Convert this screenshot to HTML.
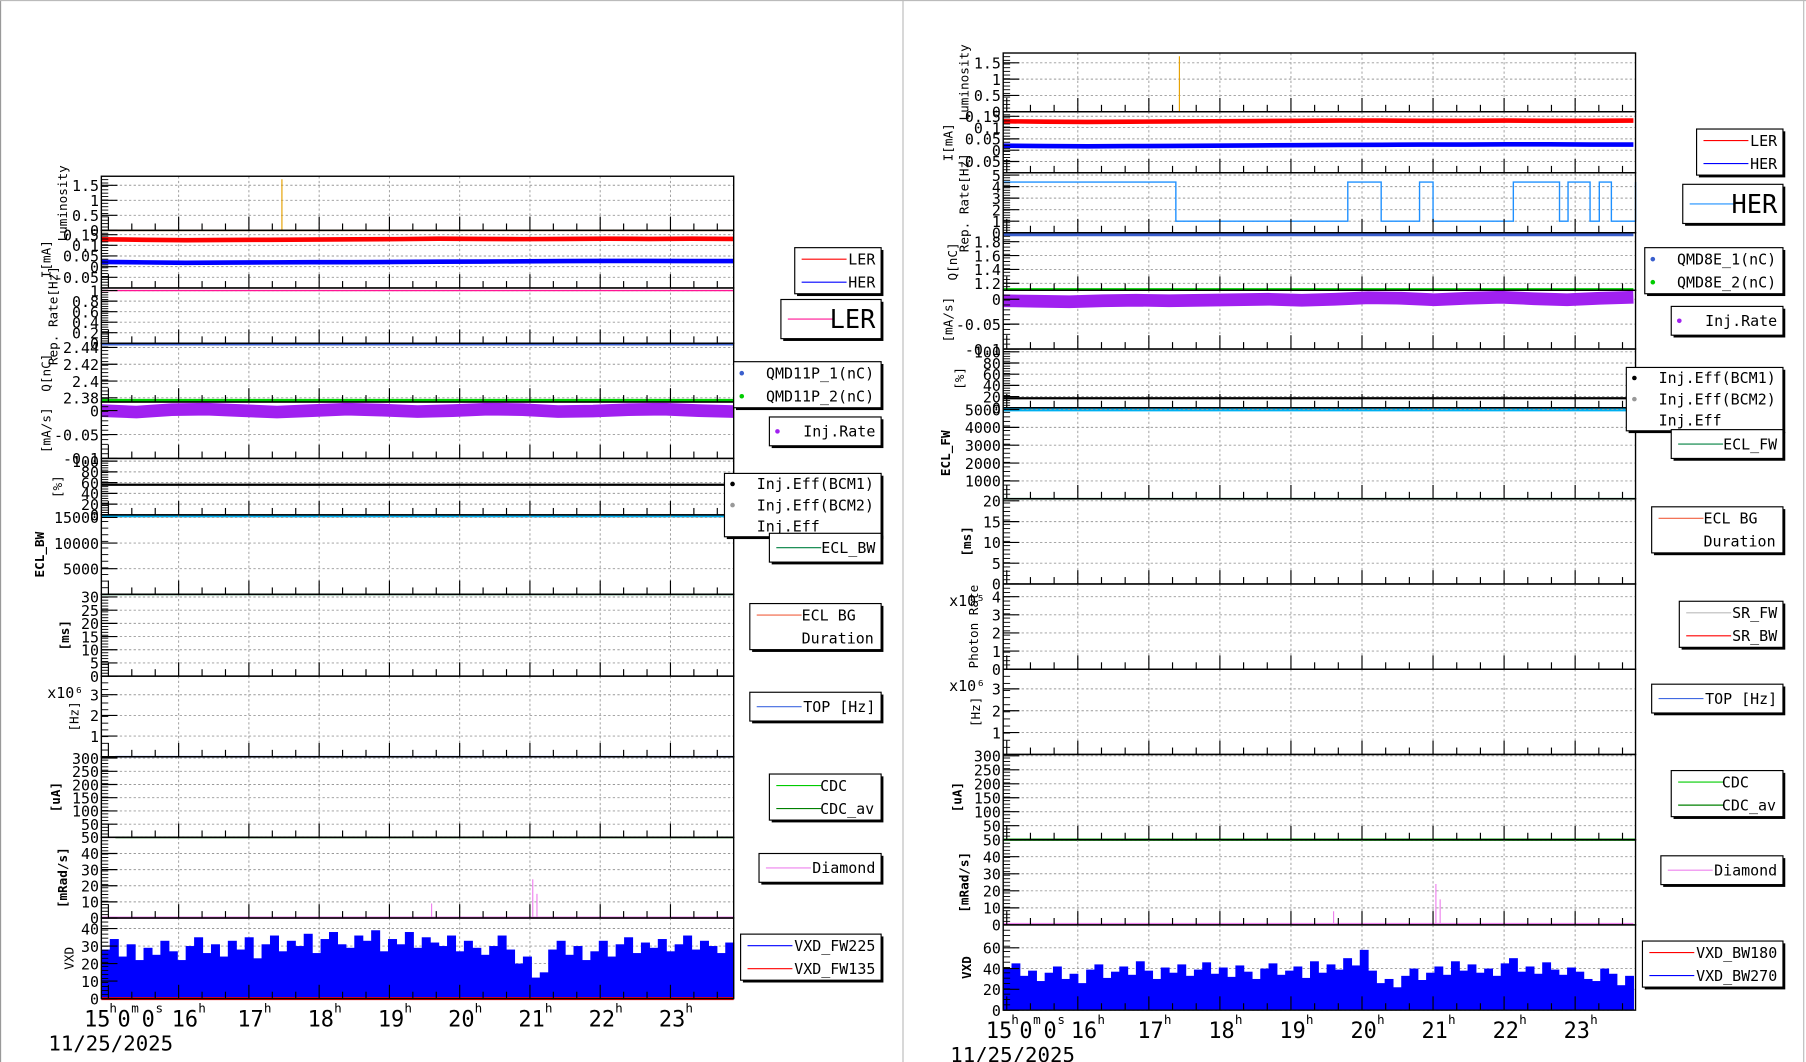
<!DOCTYPE html>
<html><head><meta charset="utf-8"><style>
html,body{margin:0;padding:0;background:#fff}
svg{display:block}
text{font-family:"DejaVu Sans Mono","Liberation Mono",monospace;fill:#000}
</style></head><body>
<svg id="c" width="1806" height="1062" viewBox="0 0 1568 922" xmlns="http://www.w3.org/2000/svg"></svg>
<script>
// ---- data ----
const lumiSpikeL = [17.47, 1.7];
const lumiSpikeR = [17.43, 1.7];
const lerL = [0.128,0.126,0.124,0.125,0.126,0.127,0.128,0.129,0.131,0.130,0.129,0.130,0.131,0.130,0.131,0.130];
const herL = [0.022,0.020,0.018,0.019,0.020,0.021,0.021,0.022,0.023,0.024,0.025,0.026,0.027,0.027,0.026,0.026];
const lerR = [0.128,0.126,0.125,0.126,0.127,0.128,0.129,0.130,0.131,0.131,0.130,0.130,0.131,0.130,0.130,0.131];
const herR = [0.020,0.018,0.017,0.018,0.019,0.020,0.021,0.022,0.023,0.024,0.025,0.025,0.026,0.026,0.025,0.025];
const injL = [0.000,-0.003,0.002,0.003,0.000,-0.003,0.000,0.003,0.001,-0.002,0.000,0.003,0.002,-0.002,-0.001,0.002,0.003,0.000,-0.002];
const injR = [-0.003,-0.004,-0.005,-0.003,-0.002,-0.003,-0.002,-0.001,0.000,-0.002,0.000,0.003,0.002,-0.001,0.002,0.004,0.001,-0.001,0.002,0.004];
const repStepT = [14.95,17.38,19.80,20.27,20.81,21.00,22.13,22.78,22.90,23.21,23.34,23.51,23.85];
const repStepV = [4.4,1.0,4.4,1.0,4.4,1.0,4.4,1.0,4.4,1.0,4.4,1.0,4.4];
const diaSpikesT = [19.6, 21.04, 21.10];
const diaSpikesL = [9, 24, 15];
const diaSpikesR = [8, 24, 15];
const vxdL = [28,34,24,31,22,29,25,33,27,22,30,35,26,31,24,33,28,35,23,31,36,27,33,30,37,26,34,38,31,29,36,33,39,27,34,31,38,29,35,32,30,36,27,33,29,25,30,36,28,20,24,12,15,28,33,25,30,22,27,33,24,31,35,26,32,29,34,27,31,36,28,33,30,26,32];
const vxdR = [40,45,33,38,28,36,42,30,35,26,39,44,31,37,42,34,47,38,30,41,36,44,33,39,46,35,41,32,43,37,30,40,45,34,38,42,31,47,36,44,39,50,43,58,38,26,30,22,33,40,29,36,42,34,47,38,44,36,40,33,45,50,37,42,35,46,39,34,41,37,30,28,40,35,24,33];
const hourLabels = ['16','17','18','19','20','21','22','23'];

const svg = document.getElementById('c');
const NS='http://www.w3.org/2000/svg';
function el(tag, attrs, parent){const e=document.createElementNS(NS,tag);for(const k in attrs)e.setAttribute(k,attrs[k]);(parent||svg).appendChild(e);return e;}
function txt(x,y,s,size,anchor,parent,extra){const t=el('text',Object.assign({x:x,y:y,'font-size':size,'text-anchor':anchor||'start'},extra||{}),parent);t.textContent=s;return t;}

el('line',{x1:0.5,y1:0,x2:0.5,y2:922,stroke:'#999','stroke-width':1});
el('line',{x1:784,y1:0,x2:784,y2:922,stroke:'#bbb','stroke-width':1});
el('line',{x1:0,y1:0.5,x2:1568,y2:0.5,stroke:'#bbb','stroke-width':1});
el('line',{x1:1566,y1:0,x2:1566,y2:922,stroke:'#bbb','stroke-width':1});

function makePanel(P){
  const g=el('g',{});
  
  
  const X=t=>P.x0+(t-P.t0)/(P.t1-P.t0)*(P.x1-P.x0);
  P.rows.forEach(r=>{
    const Y=v=>r.y1-(v-r.min)/(r.max-r.min)*(r.y1-r.y0);
    const rg=el('g',{},g);
    
    
    r.ticks.forEach(v=>{el('line',{x1:P.x0,x2:P.x1,y1:Y(v),y2:Y(v),stroke:'#999','stroke-dasharray':'2,2','stroke-width':0.8},rg);});
    for(let h=16;h<=23;h++){el('line',{x1:X(h),x2:X(h),y1:r.y0,y2:r.y1,stroke:'#999','stroke-dasharray':'2,2','stroke-width':0.8},rg);}
    r.draw(X,Y,rg);
    for(let h=15;h<=23.9;h+=1/3){const major=Math.abs(h-Math.round(h))<0.01;el('line',{x1:X(h),x2:X(h),y1:r.y1,y2:r.y1-(major?12:6),stroke:'#000','stroke-width':1},rg);}
    r.ticks.forEach(v=>{el('line',{x1:P.x0,x2:P.x0+14,y1:Y(v),y2:Y(v),stroke:'#000'},rg);txt(P.x0-2,Y(v)+5,String(v),13,'end',rg);});
    for(let k=0;k<r.ticks.length*4;k++){const yy=r.y1-k*(r.y1-r.y0)/(r.ticks.length*4);el('line',{x1:P.x0,x2:P.x0+6,y1:yy,y2:yy,stroke:'#000','stroke-width':0.8},rg);}
    const lx=P.x0-(r.labOff||38), ly=(r.y0+r.y1)/2;
    txt(lx,ly,r.label,r.labSize||11,'middle',rg,{transform:`rotate(-90 ${lx} ${ly})`,'font-weight':r.bold?'bold':'normal'});
    if(r.exp) txt(P.x0-47,r.y0+19,r.exp,13,'start',rg);
    el('rect',{x:P.x0,y:r.y0,width:P.x1-P.x0,height:r.y1-r.y0,fill:'none',stroke:'#000','stroke-width':1.2},rg);
  });
  const yb=P.rows[P.rows.length-1].y1;
  txt(P.x0-15,yb+24,'15',19,'start',g);txt(P.x0+7,yb+12,'h',11,'start',g);txt(P.x0+14,yb+24,'0',19,'start',g);
  txt(P.x0+26,yb+12,'m',11,'start',g);txt(P.x0+35,yb+24,'0',19,'start',g);txt(P.x0+47,yb+12,'s',11,'start',g);
  hourLabels.forEach((s,i)=>{const h=16+i;const t=txt(X(h)-10+(i==0?4:0),yb+24,s,19,'start',g);
    txt(X(h)+13+(i==0?4:0),yb+12,'h',11,'start',g);});
  txt(P.x0-46,yb+45,'11/25/2025',18,'start',g);
  return X;
}
function poly(X,Y,ts,vs,color,w,g,nm){
  const p=el('polyline',{points:vs.map((v,i)=>X(ts(i))+','+Y(v)).join(' '),fill:'none',stroke:color,'stroke-width':w},g);
  return p;
}
function hline(X,Y,t0,t1,v,color,w,g,nm){const l=el('line',{x1:X(t0),x2:X(t1),y1:Y(v),y2:Y(v),stroke:color,'stroke-width':w},g);}
function bars(X,Y,t0,t1,vals,color,g,nm){const dt=(t1-t0)/vals.length;vals.forEach((v,i)=>{const r=el('rect',{x:X(t0+i*dt),y:Y(v),width:X(t0+dt)-X(t0)+0.5,height:Y(0)-Y(v),fill:color},g);});}
function legend(x,y,w,h,items,size,fs,left){
  const g=el('g',{});
  el('rect',{x:x+2,y:y+2,width:w,height:h,fill:'#000'},g);
  el('rect',{x:x,y:y,width:w,height:h,fill:'#fff',stroke:'#000'},g);
  items.forEach((it,i)=>{const yy=y+h*(i+0.5)/items.length;
    const e=el('g',{},g);
    if(it.dot) el('circle',{cx:x+7,cy:yy,r:2,fill:it.c},e); else if(it.c) el('line',{x1:x+6,x2:x+(it.lw||45),y1:yy,y2:yy,stroke:it.c},e);
    if(left) txt(x+left,yy+(fs||13)*0.35,it.t,fs||13,'start',e);
    else txt(x+w-5,yy+(fs||13)*0.35,it.t,fs||13,'end',e);});
}

const sL=(a,n)=>i=>14.9+i*(23.9-14.9)/(n-1);
makePanel({name:'left-panel',x0:88,x1:637,t0:14.9,t1:23.9,rows:[
 {id:'luminosity',y0:153,y1:200,min:0,max:1.8,ticks:[0,0.5,1,1.5],label:'Luminosity',labOff:30,draw:(X,Y,g)=>{hline(X,Y,14.9,23.9,0,'#e6a000',1.2,g,'luminosity-line');el('line',{x1:X(lumiSpikeL[0]),x2:X(lumiSpikeL[0]),y1:Y(0),y2:Y(lumiSpikeL[1]),stroke:'#e6a000'},g);}},
 {id:'current',y0:200,y1:250,min:-0.1,max:0.17,ticks:[-0.05,0,0.05,0.1,0.15],label:'I[mA]',labOff:44,draw:(X,Y,g)=>{poly(X,Y,sL(0,lerL.length),lerL,'#f00',4,g,'ler-line');poly(X,Y,sL(0,herL.length),herL,'#00f',4,g,'her-line');}},
 {id:'rep-rate',y0:250,y1:298,min:0,max:1.05,ticks:[0,0.2,0.4,0.6,0.8,1],label:'Rep. Rate[Hz]',labOff:38,draw:(X,Y,g)=>{hline(X,Y,14.9,23.9,1,'#ff1493',1.2,g,'rep-rate-line');}},
 {id:'charge',y0:298,y1:349,min:2.375,max:2.445,ticks:[2.38,2.4,2.42,2.44],label:'Q[nC]',labOff:44,draw:(X,Y,g)=>{hline(X,Y,14.9,23.9,2.444,'#3a5fcd',2.5,g,'qmd1-line');hline(X,Y,14.9,23.9,2.377,'#00cc00',2.5,g,'qmd2-line');}},
 {id:'inj-rate',y0:349,y1:398,min:-0.1,max:0.018,ticks:[-0.1,-0.05,0],label:'[mA/s]',labOff:44,draw:(X,Y,g)=>{poly(X,Y,sL(0,injL.length),injL,'#a020f0',11,g,'inj-rate-band');}},
 {id:'inj-eff',y0:398,y1:447,min:0,max:105,ticks:[0,20,40,60,80,100],label:'[%]',labOff:34,draw:(X,Y,g)=>{hline(X,Y,14.9,23.9,56,'#000',2,g,'inj-eff-bcm1');hline(X,Y,14.9,23.9,-2,'#00b0f0',2.5,g,'inj-eff');}},
 {id:'ecl-bw',y0:447,y1:516,min:0,max:15500,ticks:[5000,10000,15000],label:'ECL_BW',bold:1,labOff:50,draw:(X,Y,g)=>{hline(X,Y,14.9,23.9,0,'#008040',1.5,g,'ecl-bw-line');}},
 {id:'ecl-bg',y0:516,y1:587,min:0,max:31,ticks:[0,5,10,15,20,25,30],label:'[ms]',bold:1,labOff:28,draw:(X,Y,g)=>{}},
 {id:'top',y0:587,y1:657,min:0,max:3.9,ticks:[1,2,3],label:'[Hz]',labOff:20,exp:'x10⁶',draw:(X,Y,g)=>{hline(X,Y,15.1,23.9,0,'#4169e1',1.5,g,'top-line');}},
 {id:'cdc',y0:657,y1:727,min:0,max:305,ticks:[50,100,150,200,250,300],label:'[uA]',bold:1,labOff:36,draw:(X,Y,g)=>{hline(X,Y,15.1,23.9,0,'#008000',1.5,g,'cdc-line');}},
 {id:'diamond',y0:727,y1:797,min:0,max:50,ticks:[0,10,20,30,40,50],label:'[mRad/s]',bold:1,labOff:30,draw:(X,Y,g)=>{hline(X,Y,14.9,23.9,0.2,'#ee82ee',2,g,'diamond-line');diaSpikesT.forEach((t,i)=>el('line',{x1:X(t),x2:X(t),y1:Y(0),y2:Y(diaSpikesL[i]),stroke:'#ee82ee'},g));}},
 {id:'vxd',y0:797,y1:867,min:0,max:46,ticks:[0,10,20,30,40],label:'VXD',labOff:24,draw:(X,Y,g)=>{bars(X,Y,14.9,23.9,vxdL,'#0000ff',g,'vxd-fw225-bar');hline(X,Y,14.9,23.9,0,'#f00',2.5,g,'vxd-fw135-line');}}
]});

const sR=(a,n)=>i=>14.95+i*(23.82-14.95)/(n-1);
makePanel({name:'right-panel',x0:871,x1:1420,t0:14.95,t1:23.85,rows:[
 {id:'luminosity-r',y0:46,y1:97,min:0,max:1.8,ticks:[0,0.5,1,1.5],label:'Luminosity',labOff:30,draw:(X,Y,g)=>{hline(X,Y,14.95,23.85,0,'#e6a000',1.2,g,'luminosity-line');el('line',{x1:X(lumiSpikeR[0]),x2:X(lumiSpikeR[0]),y1:Y(0),y2:Y(lumiSpikeR[1]),stroke:'#e6a000'},g);}},
 {id:'current-r',y0:97,y1:150,min:-0.1,max:0.17,ticks:[-0.05,0,0.05,0.1,0.15],label:'I[mA]',labOff:44,draw:(X,Y,g)=>{poly(X,Y,sR(0,lerR.length),lerR,'#f00',4,g,'ler-line');poly(X,Y,sR(0,herR.length),herR,'#00f',4,g,'her-line');}},
 {id:'rep-rate-r',y0:150,y1:202,min:0,max:5.2,ticks:[0,1,2,3,4,5],label:'Rep. Rate[Hz]',labOff:30,draw:(X,Y,g)=>{let pts=[];repStepT.forEach((t,i)=>{if(i>0)pts.push(X(t)+','+Y(repStepV[i-1]));pts.push(X(t)+','+Y(repStepV[i]));});const p=el('polyline',{points:pts.join(' '),fill:'none',stroke:'#1e90ff','stroke-width':1.2},g);}},
 {id:'charge-r',y0:202,y1:252,min:1.1,max:1.93,ticks:[1.2,1.4,1.6,1.8],label:'Q[nC]',labOff:40,draw:(X,Y,g)=>{hline(X,Y,14.95,23.82,1.9,'#3a5fcd',2.5,g,'qmd1-line');hline(X,Y,14.95,23.82,1.11,'#00cc00',2.5,g,'qmd2-line');}},
 {id:'inj-rate-r',y0:252,y1:303,min:-0.1,max:0.018,ticks:[-0.1,-0.05,0],label:'[mA/s]',labOff:44,draw:(X,Y,g)=>{poly(X,Y,sR(0,injR.length),injR,'#a020f0',11,g,'inj-rate-band');}},
 {id:'inj-eff-r',y0:303,y1:354,min:0,max:105,ticks:[0,20,40,60,80,100],label:'[%]',labOff:34,draw:(X,Y,g)=>{hline(X,Y,14.95,23.82,17,'#000',2,g,'inj-eff-bcm1');hline(X,Y,14.95,23.82,-4,'#00b0f0',2.5,g,'inj-eff');}},
 {id:'ecl-fw',y0:354,y1:433,min:0,max:5100,ticks:[1000,2000,3000,4000,5000],label:'ECL_FW',bold:1,labOff:46,draw:(X,Y,g)=>{hline(X,Y,14.95,23.85,0,'#008040',1.5,g,'ecl-fw-line');}},
 {id:'ecl-bg-r',y0:433,y1:507,min:0,max:20.5,ticks:[0,5,10,15,20],label:'[ms]',bold:1,labOff:28,draw:(X,Y,g)=>{}},
 {id:'photon',y0:507,y1:581,min:0,max:4.7,ticks:[0,1,2,3,4],label:'Photon Rate',labOff:22,exp:'x10⁵',draw:(X,Y,g)=>{hline(X,Y,14.95,23.85,0,'#f00',1.2,g,'sr-bw-line');}},
 {id:'top-r',y0:581,y1:655,min:0,max:3.9,ticks:[1,2,3],label:'[Hz]',labOff:20,exp:'x10⁶',draw:(X,Y,g)=>{}},
 {id:'cdc-r',y0:655,y1:729,min:0,max:305,ticks:[50,100,150,200,250,300],label:'[uA]',bold:1,labOff:36,draw:(X,Y,g)=>{hline(X,Y,14.95,23.85,0,'#00a000',2,g,'cdc-line');}},
 {id:'diamond-r',y0:729,y1:803,min:0,max:50,ticks:[0,10,20,30,40,50],label:'[mRad/s]',bold:1,labOff:30,draw:(X,Y,g)=>{hline(X,Y,14.95,23.82,0.5,'#ee82ee',2,g,'diamond-line');diaSpikesT.forEach((t,i)=>el('line',{x1:X(t),x2:X(t),y1:Y(0),y2:Y(diaSpikesR[i]),stroke:'#ee82ee'},g));}},
 {id:'vxd-r',y0:803,y1:877,min:0,max:82,ticks:[0,20,40,60],label:'VXD',bold:1,labOff:28,draw:(X,Y,g)=>{bars(X,Y,14.95,23.82,vxdR,'#0000ff',g,'vxd-bw270-bar');}}
]});

legend(690,215,75,40,[{c:'#f00',t:'LER'},{c:'#00f',t:'HER'}]);
legend(678,260,87,34,[{c:'#ff1493',t:'LER'}],0,22);
legend(637,314,128,40,[{dot:1,c:'#3a5fcd',t:'QMD11P_1(nC)'},{dot:1,c:'#00cc00',t:'QMD11P_2(nC)'}],0,13,28);
legend(668,362,97,25,[{dot:1,c:'#a020f0',t:'Inj.Rate'}]);
legend(629,411,136,55,[{dot:1,c:'#000',t:'Inj.Eff(BCM1)'},{dot:1,c:'#999',t:'Inj.Eff(BCM2)'},{t:'Inj.Eff'}],0,13,28);
legend(668,463,97,25,[{c:'#008040',t:'ECL_BW'}]);
legend(651,524,114,40,[{c:'#f06040',t:'ECL BG'},{t:'Duration'}],0,13,45);
legend(651,601,114,25,[{c:'#4169e1',t:'TOP [Hz]'}]);
legend(668,672,97,40,[{c:'#00cc00',t:'CDC'},{c:'#008000',t:'CDC_av'}],0,13,44);
legend(659,741,106,25,[{c:'#ee82ee',t:'Diamond'}]);
legend(643,811,122,40,[{c:'#00f',t:'VXD_FW225'},{c:'#f00',t:'VXD_FW135'}]);
legend(1473,112,75,40,[{c:'#f00',t:'LER'},{c:'#00f',t:'HER'}]);
legend(1461,160,87,34,[{c:'#1e90ff',t:'HER'}],0,22);
legend(1428,215,120,40,[{dot:1,c:'#3a5fcd',t:'QMD8E_1(nC)'},{dot:1,c:'#00cc00',t:'QMD8E_2(nC)'}],0,13,28);
legend(1451,266,97,25,[{dot:1,c:'#a020f0',t:'Inj.Rate'}]);
legend(1412,319,136,55,[{dot:1,c:'#000',t:'Inj.Eff(BCM1)'},{dot:1,c:'#999',t:'Inj.Eff(BCM2)'},{t:'Inj.Eff'}],0,13,28);
legend(1451,373,97,25,[{c:'#008040',t:'ECL_FW'}]);
legend(1434,440,114,40,[{c:'#f06040',t:'ECL BG'},{t:'Duration'}],0,13,45);
legend(1458,522,90,40,[{c:'#bbb',t:'SR_FW'},{c:'#f00',t:'SR_BW'}]);
legend(1434,594,114,25,[{c:'#4169e1',t:'TOP [Hz]'}]);
legend(1451,669,97,40,[{c:'#00cc00',t:'CDC'},{c:'#008000',t:'CDC_av'}],0,13,44);
legend(1442,743,106,25,[{c:'#ee82ee',t:'Diamond'}]);
legend(1426,817,122,40,[{c:'#f00',t:'VXD_BW180'},{c:'#00f',t:'VXD_BW270'}]);
</script>
</body></html>
